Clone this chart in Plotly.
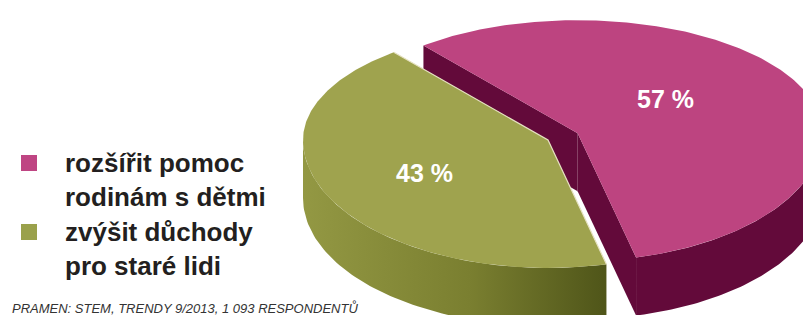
import numpy as np
import plotly.graph_objects as go

# ---------------- data ----------------
categories = ["rozšířit pomoc rodinám s dětmi", "zvýšit důchody pro staré lidi"]
values = [57, 43]
value_labels = ["57 %", "43 %"]
legend_lines = [["rozšířit pomoc", "rodinám s dětmi"], ["zvýšit důchody", "pro staré lidi"]]
source_text = "PRAMEN: STEM, TRENDY 9/2013, 1 093 RESPONDENTŮ"

top_colors = ["#bd4480", "#9fa34e"]
side_colors = ["#630a3a", "#80852f"]
legend_colors = ["#bf4583", "#9aa14b"]

# ---------------- geometry of the tilted pie ----------------
W, H = 811, 315
cx, cy = 540, 132          # pie centre (pixels)
a = 245                    # horizontal radius
b_top, b_bot = 113, 128    # vertical radii (back / front half, perspective)
depth = 58                 # thickness of the pie
start_angle = 129          # degrees, first slice goes clockwise from here
explode = [0.135, 0.0]
label_frac = [(0.40, 0.68), (0.565, 0.58)]

total = float(sum(values))
spans = [v / total * 360.0 for v in values]


def rim(theta, dx=0.0, dy=0.0, dz=0.0):
    t = np.radians(theta)
    s = np.sin(t)
    b = np.where(s > 0, b_top, b_bot)
    return cx + dx + a * np.cos(t), cy + dy - b * s + dz


fig = go.Figure()


def poly(xs, ys, color, grad=None):
    kw = dict(x=list(xs) + [xs[0]], y=list(ys) + [ys[0]], mode="lines", fill="toself",
              fillcolor=color, line=dict(width=0, color=color), hoverinfo="skip",
              showlegend=False)
    if grad is not None:
        kw["fillgradient"] = dict(type="horizontal", colorscale=grad)
    fig.add_trace(go.Scatter(**kw))


slices = []
ang = start_angle
for i, sp in enumerate(spans):
    th0, th1 = ang, ang - sp  # clockwise
    mid = (th0 + th1) / 2
    dx = explode[i] * a * np.cos(np.radians(mid))
    dy = -explode[i] * b_top * np.sin(np.radians(mid))
    slices.append((th0, th1, dx, dy, mid))
    ang = th1

# magenta slice (index 0): walls then top
th0, th1, dx, dy, mid = slices[0]
ts = np.linspace(th1, min(th0, 0), 80)
x_t, y_t = rim(ts, dx, dy)
x_b, y_b = rim(ts[::-1], dx, dy, depth)
poly(np.r_[x_t, x_b], np.r_[y_t, y_b], side_colors[0])
ax_, ay_ = cx + dx, cy + dy
for th in (th0, th1):
    rx, ry = rim(th, dx, dy)
    poly([ax_, float(rx), float(rx), ax_], [ay_, float(ry), float(ry) + depth, ay_ + depth], side_colors[0])
ts = np.linspace(th0, th1, 200)
x_t, y_t = rim(ts, dx, dy)
poly(np.r_[ax_, x_t], np.r_[ay_, y_t], top_colors[0])

# green slice (index 1): front wall then top
th0, th1, dx, dy, mid = slices[1]
ts = np.linspace(-180, th0, 80)
x_t, y_t = rim(ts, dx, dy)
x_b, y_b = rim(ts[::-1], dx, dy, depth)
poly(np.r_[x_t, x_b], np.r_[y_t, y_b], side_colors[1],
     grad=[[0, "#939843"], [0.55, "#7a7f30"], [1, "#4f5519"]])
ts = np.linspace(th0, th1, 200)
x_t, y_t = rim(ts, dx, dy)
gx, gy = cx + dx, cy + dy
poly(np.r_[gx, x_t], np.r_[gy, y_t], top_colors[1])
r0x, r0y = rim(th0, dx, dy)
r1x, r1y = rim(th1, dx, dy)
fig.add_trace(go.Scatter(x=[float(r1x), gx, float(r0x)], y=[float(r1y), gy, float(r0y)], mode="lines",
                         line=dict(color="#e6e2c2", width=1.2), hoverinfo="skip", showlegend=False))

# value labels
for i, (th0, th1, dx, dy, mid) in enumerate(slices):
    fx, fy = label_frac[i]
    ox, oy = cx + dx, cy + dy
    rx, ry = rim(mid, dx, dy)
    fig.add_annotation(x=ox + fx * (float(rx) - ox), y=oy + fy * (float(ry) - oy),
                       text=f"<b>{value_labels[i]}</b>", showarrow=False,
                       font=dict(family="Liberation Sans, Arial", size=25, color="white"))

# legend
legend_y = [[155, 189], [224, 258]]
for i, lines in enumerate(legend_lines):
    fig.add_shape(type="rect", x0=13, x1=29, y0=legend_y[i][0] - 8, y1=legend_y[i][0] + 8,
                  fillcolor=legend_colors[i], line=dict(width=0), xref="x", yref="y")
    for j, txt in enumerate(lines):
        fig.add_annotation(x=55, y=legend_y[i][j], text=f"<b>{txt}</b>", showarrow=False,
                           xanchor="left", yanchor="middle",
                           font=dict(family="Liberation Sans, Arial", size=26, color="#231f20"))

# source line at the bottom edge
fig.add_annotation(x=0, y=0, xref="paper", yref="paper",
                   text=f"<i>{source_text}</i>", showarrow=False, xanchor="left",
                   yanchor="bottom", borderpad=0, xshift=3, yshift=6,
                   font=dict(family="Liberation Sans, Arial", size=13, color="#333333"))

fig.update_layout(width=W, height=H, margin=dict(l=0, r=0, t=0, b=0),
                  paper_bgcolor="white", plot_bgcolor="white",
                  xaxis=dict(range=[0, W], visible=False, fixedrange=True),
                  yaxis=dict(range=[H, 0], visible=False, fixedrange=True))

fig.write_html("out.html")
